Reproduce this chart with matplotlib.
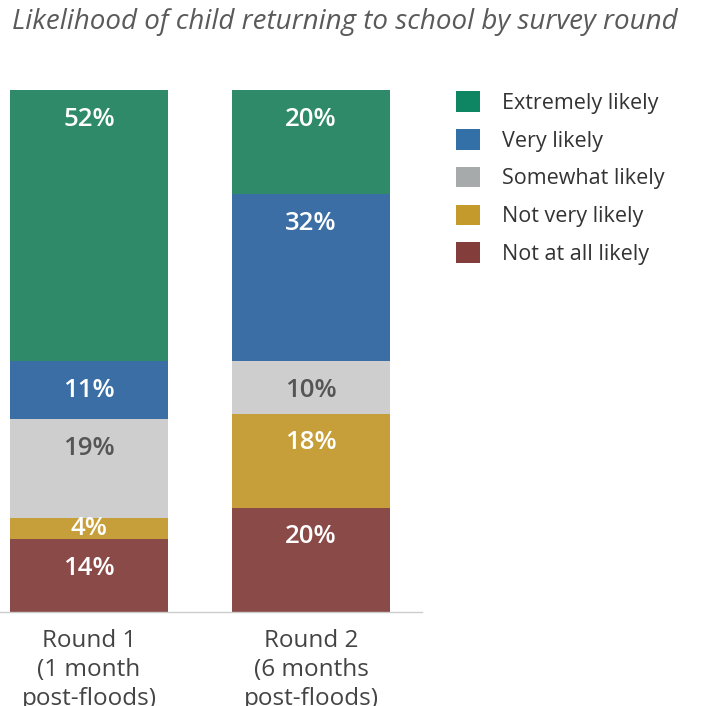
import matplotlib
matplotlib.use("Agg")
import matplotlib.pyplot as plt
from matplotlib.patches import Patch

plt.rcParams["font.family"] = ["Open Sans", "DejaVu Sans"]

rounds = ["Round 1\n(1 month\npost-floods)", "Round 2\n(6 months\npost-floods)"]
categories = ["Not at all likely", "Not very likely", "Somewhat likely",
              "Very likely", "Extremely likely"]
values = {
    "Not at all likely": [14, 20],
    "Not very likely": [4, 18],
    "Somewhat likely": [19, 10],
    "Very likely": [11, 32],
    "Extremely likely": [52, 20],
}
bar_colors = {
    "Not at all likely": "#8a4a47",
    "Not very likely": "#c79f3a",
    "Somewhat likely": "#cdcecd",
    "Very likely": "#3a6ea5",
    "Extremely likely": "#2e8a68",
}
legend_colors = {
    "Not at all likely": "#833e3b",
    "Not very likely": "#c49a2c",
    "Somewhat likely": "#a7aaaa",
    "Very likely": "#3370a8",
    "Extremely likely": "#0e8563",
}
text_colors = {"Somewhat likely": "#555555"}

fig = plt.figure(figsize=(7.01, 7.06), dpi=100)
ax = fig.add_axes([0, 94 / 706, 422 / 701, 522 / 706])

x = [0, 1]
bottom = [0, 0]
for cat in categories:
    vals = values[cat]
    ax.bar(x, vals, bottom=bottom, width=0.712, color=bar_colors[cat], linewidth=0)
    for xi, v, b in zip(x, vals, bottom):
        top = b + v
        # small segments get a centred label, others sit near the top
        if v < 8:
            y = b + v / 2
        else:
            y = top - 5.6
        ax.text(xi, y, f"{v}%", ha="center", va="center", fontsize=18.5,
                fontweight="semibold", color=text_colors.get(cat, "white"))
    bottom = [b + v for b, v in zip(bottom, vals)]

ax.set_xlim(-0.401, 1.5)
ax.set_ylim(0, 100)
for s in ["top", "right", "left"]:
    ax.spines[s].set_visible(False)
ax.spines["bottom"].set_color("#cccccc")
ax.spines["bottom"].set_linewidth(1)
ax.set_yticks([])
ax.set_xticks(x)
ax.set_xticklabels(rounds, fontsize=17.5, color="#444444", linespacing=1.28)
ax.tick_params(axis="x", length=0, pad=12)

handles = [Patch(facecolor=legend_colors[c], edgecolor="none", label=c)
           for c in categories[::-1]]
fig.legend(handles=handles, loc="upper left", bbox_to_anchor=(437 / 701, 1 - 72 / 706),
           frameon=False, fontsize=15.5, labelcolor="#333333",
           handlelength=1.1, handleheight=1.1, handletextpad=1.0, labelspacing=0.7)

fig.text(12 / 701, 1 - 22 / 706, "Likelihood of child returning to school by survey round",
         ha="left", va="center", fontsize=20, style="italic",
         color="#5a5a5a")

fig.savefig("out.png", dpi=100)
